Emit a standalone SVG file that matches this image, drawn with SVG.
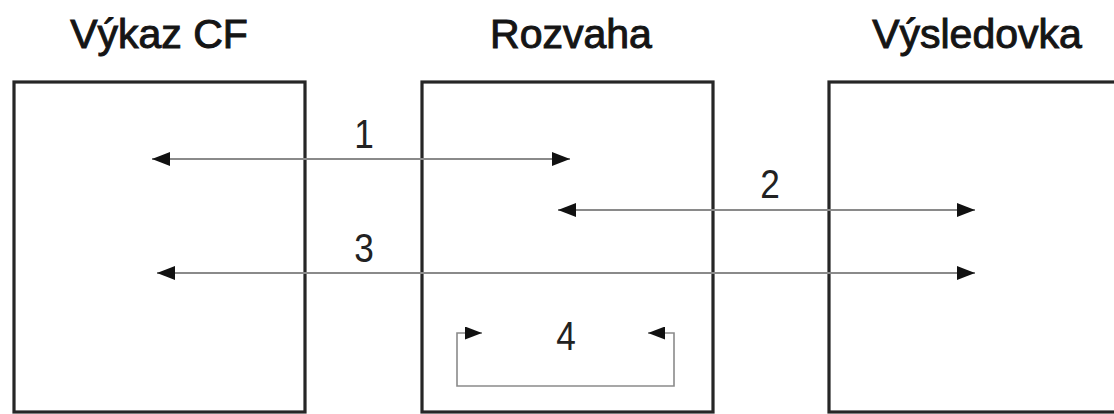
<svg xmlns="http://www.w3.org/2000/svg" width="1114" height="414" viewBox="0 0 1114 414">
  <style>
    .title { font-family: "Liberation Sans", Arial, sans-serif; font-size: 41px; fill: #151515; text-anchor: middle; stroke: #151515; stroke-width: 1px; }
    .num { font-family: "Liberation Sans", Arial, sans-serif; font-size: 40px; fill: #222; text-anchor: middle; }
    .box { fill: #ffffff; stroke: #262626; stroke-width: 3.2; }
    .flow { fill: none; stroke: #8a8a8a; stroke-width: 2.2; marker-start: url(#head); marker-end: url(#head); }
    .loop { fill: none; stroke: #8a8a8a; stroke-width: 1.6; marker-start: url(#headSmall); marker-end: url(#headSmall); }
  </style>
  <defs>
    <marker id="head" viewBox="0 0 18 14" markerUnits="userSpaceOnUse" markerWidth="18" markerHeight="14" refX="18" refY="7" orient="auto-start-reverse">
      <path d="M0,0 L18,7 L0,14 Z" fill="#111"/>
    </marker>
    <marker id="headSmall" viewBox="0 0 17 13" markerUnits="userSpaceOnUse" markerWidth="17" markerHeight="13" refX="17" refY="6.5" orient="auto-start-reverse">
      <path d="M0,0 L17,6.5 L0,13 Z" fill="#111"/>
    </marker>
  </defs>
  <rect width="1114" height="414" fill="#ffffff"/>

  <!-- statements -->
  <g id="vykaz-cf">
    <rect class="box" x="14" y="82" width="291" height="330"/>
    <text class="title" x="159" y="48">Výkaz CF</text>
  </g>
  <g id="rozvaha">
    <rect class="box" x="422" y="82" width="291" height="330"/>
    <text class="title" x="571" y="48">Rozvaha</text>
  </g>
  <g id="vysledovka">
    <rect class="box" x="829" y="82" width="300" height="330"/>
    <text class="title" x="977" y="48">Výsledovka</text>
  </g>

  <!-- links between statements -->
  <g id="connectors">
    <line class="flow" x1="152" y1="159" x2="570" y2="159"/>
    <line class="flow" x1="558" y1="210" x2="975" y2="210"/>
    <line class="flow" x1="157" y1="273" x2="975" y2="273"/>
    <path class="loop" d="M482,333 H457 V386 H674 V333 H648"/>
    <text class="num" transform="translate(364,148) scale(0.88,1)">1</text>
    <text class="num" transform="translate(770,198) scale(0.88,1)">2</text>
    <text class="num" transform="translate(364,262) scale(0.88,1)">3</text>
    <text class="num" transform="translate(566,350) scale(0.88,1)">4</text>
  </g>
</svg>
